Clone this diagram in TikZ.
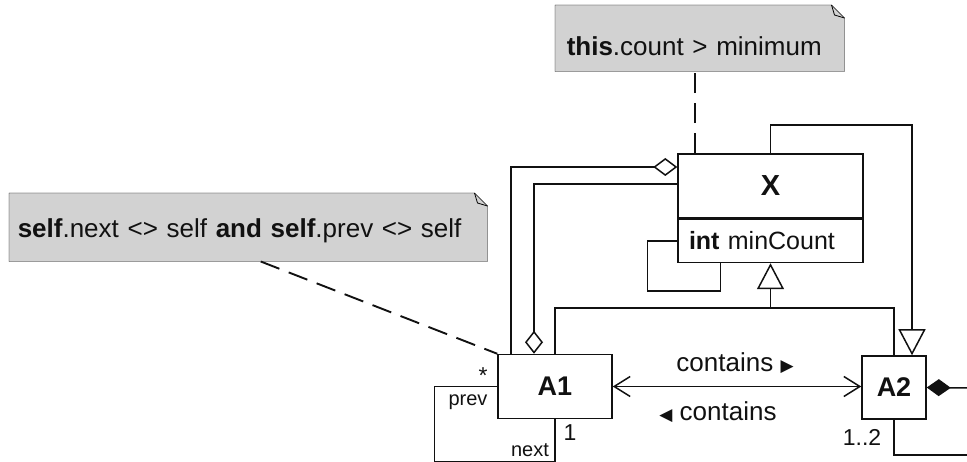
\documentclass[tikz,border=0pt]{standalone}
\usepackage{fontspec}
\setmainfont{Liberation Sans}
\newfontfamily\symfont{DejaVu Sans}
\usetikzlibrary{arrows.meta,calc,backgrounds}
\definecolor{notebg}{HTML}{D2D2D2}
\definecolor{ink}{HTML}{111111}
\newcommand\fs[1]{\fontsize{#1}{#1}\selectfont}

\begin{document}
\begin{tikzpicture}[x=1pt, y=-1pt,
    line width=1.5pt, color=ink,
    cls/.style={draw, fill=white, inner sep=0pt, align=center, font=\fs{27}\bfseries},
    note/.style={inner xsep=10pt, inner ysep=0pt, anchor=north west, align=left, font=\fs{26}},
    role/.style={inner sep=0pt, font=\fs{20}},
    mult/.style={inner sep=0pt, font=\fs{23}},
    lbl/.style={inner sep=0pt, font=\fs{26}},
    dashline/.style={dash pattern=on 20pt off 10pt, line width=1.9pt},
    gen/.style={-{Triangle[open,length=26pt,width=27pt]}},
    agg/.style={{Diamond[open,length=24pt,width=18pt]}-},
    aggend/.style={-{Diamond[open,length=23pt,width=18pt]}},
    comp/.style={{Diamond[length=24pt,width=17pt]}-},
    assoc/.style={{Straight Barb[length=16pt,width=20pt]}-{Straight Barb[length=16pt,width=20pt]}}]
    \useasboundingbox (0,0) rectangle (967,462);

    % notes
    \node[note, minimum width=288pt, minimum height=65pt, text width=266pt,
          text height=35pt, text depth=0pt] (cnote) at (555,5) {\textbf{this}.count > minimum};
    \node[note, inner xsep=8pt, minimum width=477pt, minimum height=67pt, text width=461pt,
          text height=21pt, text depth=0pt] (snote) at (9,193)
          {\textbf{self}.next <> self \textbf{and} \textbf{self}.prev <> self};
    \begin{scope}[on background layer]
      \foreach \n in {cnote, snote} {
        \filldraw[fill=notebg] (\n.north west) -- ([xshift=-13pt]\n.north east)
          -- ([yshift=-13pt]\n.north east) -- (\n.south east) -- (\n.south west) -- cycle;
        \draw[line width=0.8pt] ([xshift=-13pt]\n.north east) -- ([xshift=-10pt,yshift=-10pt]\n.north east)
          -- ([yshift=-13pt]\n.north east);
      }
    \end{scope}

    % classes
    \node[cls, minimum width=185pt, minimum height=64pt, font=\fs{29}\bfseries] (xname) at (770.5,186) {X};
    \node[cls, minimum width=185pt, minimum height=43pt, anchor=north, font=\fs{25},
          text width=163pt, align=left] (xattr) at (xname.south) {\textbf{int} minCount};
    \node[cls, minimum width=114pt, minimum height=64pt] (aone) at (555,386.5) {A1};
    \node[cls, minimum width=64pt, minimum height=63pt] (atwo) at (894,387.5) {A2};

    \coordinate (genj) at (770.5,308);
    \coordinate (xtop) at (770.5,125);
    \coordinate (offr) at (967,388);
    \coordinate (offb) at (967,455);

    % constraints
    \draw[dashline] ([xshift=-75.5pt]xname.north) -- ([xshift=-75.5pt]xname.north |- cnote.south);
    \draw[dashline] ([xshift=12.5pt]snote.south) -- (aone.north west);

    % aggregations
    \draw[agg] ([yshift=19pt]xname.west) -| ([xshift=-44pt]aone.north);
    \draw[aggend] ([yshift=2pt]xname.west) -| ([xshift=-21pt]aone.north);

    % generalizations
    \draw[gen] (aone.north) |- (genj) -- (xattr.south);
    \draw (atwo.north) |- (genj);
    \draw[gen] (xname.north) -- (xtop) -| ([xshift=18pt]atwo.north);

    % self loops
    \draw (xattr.west) -- ++(-30,0) -- ++(0,50) -| ([xshift=-50pt]xattr.south);
    \draw (aone.west) -- ++(-63,0) -- ++(0,75) -| (aone.south);

    % associations
    \draw[assoc] (aone.east) -- (atwo.west |- aone.east);
    \draw[comp] (atwo.east) -- (offr);
    \draw (atwo.south) |- (offb);

    % labels
    \node[mult] (star) at (483,376) {*};
    \node[role] (prev) at (468,402) {prev};
    \node[role] (next) at (530,450) {next};
    \node[mult] (one) at (570,433) {1};
    \node[mult] (onetwo) at (862,437) {1..2};
    \node[lbl] (cfwd) at (735,363) {contains {\symfont\fs{17}▶}};
    \node[lbl] (cbwd) at (718,412) {{\symfont\fs{17}◀} contains};
\end{tikzpicture}
\end{document}
